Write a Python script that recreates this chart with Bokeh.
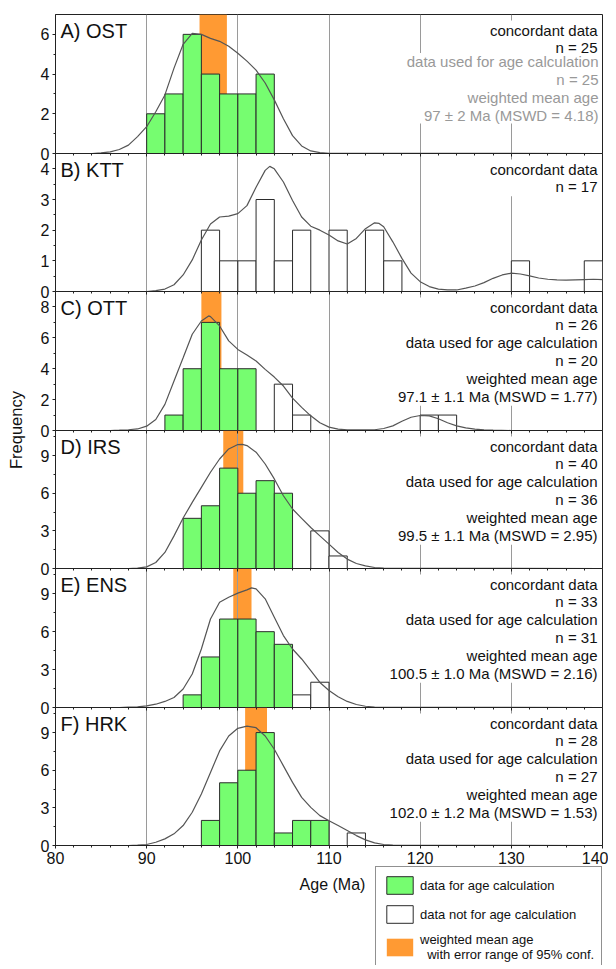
import math
from bokeh.plotting import figure
from bokeh.layouts import column, row
from bokeh.models import (Range1d, FixedTicker, Label, ColumnDataSource, LinearAxis,
                          BoxAnnotation, Legend, LegendItem)
from bokeh.embed import file_html
from bokeh.resources import INLINE

FONT = "Liberation Sans"
GREEN = "#76FD70"
ORANGE = "#FF9A33"
GRAY_TXT = "#999999"
BIN_W = 2

# ---------------- data ----------------
panel_names = ["A) OST", "B) KTT", "C) OTT", "D) IRS", "E) ENS", "F) HRK"]

A_bins = [90, 92, 94, 96, 98, 100, 102]
A_counts = [2, 3, 6, 4, 3, 3, 4]
A_used = [True, True, True, True, True, True, True]
B_bins = [96, 98, 100, 102, 104, 106, 110, 114, 116, 130, 138]
B_counts = [2, 1, 1, 3, 1, 2, 2, 2, 1, 1, 1]
B_used = [False] * 11
C_bins = [92, 94, 96, 98, 100, 104, 106, 120, 122]
C_counts = [1, 4, 7, 4, 4, 3, 1, 1, 1]
C_used = [True, True, True, True, True, False, False, False, False]
D_bins = [94, 96, 98, 100, 102, 104, 108, 110]
D_counts = [4, 5, 8, 6, 7, 6, 3, 1]
D_used = [True, True, True, True, True, True, False, False]
E_bins = [94, 96, 98, 100, 102, 104, 106, 108]
E_counts = [1, 4, 7, 7, 6, 5, 1, 2]
E_used = [True, True, True, True, True, True, False, False]
F_bins = [96, 98, 100, 102, 104, 106, 108, 112]
F_counts = [2, 5, 6, 9, 1, 2, 2, 1]
F_used = [True, True, True, True, True, True, True, False]

A_kde_age = [80, 84, 85, 86, 87, 88, 89, 90, 91, 92, 93, 94, 95, 96, 97, 98, 99, 100, 101, 102,
             103, 104, 105, 106, 107, 108, 109, 110, 140]
A_kde_freq = [0, 0.0, 0.03, 0.08, 0.2, 0.42, 0.85, 1.35, 2.1, 2.95, 4.3, 5.5, 6.05, 6.0, 5.8, 5.65,
              5.4, 5.05, 4.65, 4.2, 3.55, 2.7, 1.75, 0.9, 0.38, 0.13, 0.04, 0.01, 0.0]
B_kde_age = [80, 90, 91, 92, 93, 94, 95, 96, 97, 98, 99, 100, 101, 102, 103, 103.5, 104, 105, 106,
             107, 108, 109, 110, 111, 112, 113, 114, 115, 115.5, 116, 117, 118, 119, 120, 121, 122,
             123, 124, 125, 126, 127, 128, 129, 130, 131, 132, 133, 134, 135, 136, 137, 138, 139, 140]
B_kde_freq = [0, 0.0, 0.03, 0.08, 0.22, 0.54, 1.03, 1.68, 2.2, 2.43, 2.46, 2.54, 2.8, 3.4, 3.95, 4.08,
              4.0, 3.57, 2.97, 2.43, 2.13, 2.0, 1.84, 1.65, 1.55, 1.73, 2.05, 2.24, 2.22, 2.11, 1.62,
              1.08, 0.6, 0.32, 0.16, 0.08, 0.05, 0.05, 0.11, 0.18, 0.29, 0.43, 0.54, 0.6, 0.57, 0.51,
              0.44, 0.4, 0.38, 0.37, 0.38, 0.39, 0.4, 0.39]
C_kde_age = [80, 86, 87, 88, 89, 90, 91, 92, 93, 94, 95, 96, 96.8, 97, 98, 99, 100, 101, 102, 103,
             104, 105, 106, 107, 108, 109, 110, 111, 112, 113, 114, 115, 116, 117, 118, 119, 120,
             121, 122, 123, 124, 125, 126, 127, 128, 130, 140]
C_kde_freq = [0, 0.0, 0.02, 0.05, 0.1, 0.28, 0.71, 1.69, 3.2, 4.71, 6.23, 7.09, 7.42, 7.37, 6.77,
              5.8, 5.25, 4.89, 4.5, 3.96, 3.46, 2.88, 2.1, 1.5, 0.95, 0.5, 0.22, 0.09, 0.04, 0.04,
              0.04, 0.05, 0.13, 0.3, 0.6, 0.86, 0.97, 0.95, 0.76, 0.5, 0.3, 0.17, 0.09, 0.04, 0.02,
              0.0, 0.0]
D_kde_age = [80, 88, 89, 90, 91, 92, 93, 94, 95, 96, 97, 98, 99, 100, 100.5, 101, 102, 103, 104,
             105, 106, 107, 108, 109, 110, 111, 112, 113, 114, 115, 116, 117, 140]
D_kde_freq = [0, 0.0, 0.03, 0.13, 0.48, 1.28, 2.6, 4.02, 5.27, 6.47, 7.67, 8.73, 9.53, 9.88, 9.9,
              9.8, 9.27, 8.33, 7.14, 5.8, 4.74, 4.0, 3.27, 2.6, 1.94, 1.28, 0.75, 0.4, 0.21, 0.08,
              0.03, 0.01, 0.0]
E_kde_age = [80, 87, 88, 89, 90, 91, 92, 93, 94, 95, 96, 97, 98, 99, 100, 101, 101.5, 102, 103,
             104, 105, 106, 107, 108, 109, 110, 111, 112, 113, 114, 115, 116, 117, 140]
E_kde_freq = [0, 0.0, 0.03, 0.05, 0.13, 0.26, 0.48, 0.79, 1.46, 2.65, 4.63, 7.0, 8.33, 8.73, 9.05,
              9.31, 9.47, 9.39, 8.6, 7.14, 5.69, 4.63, 3.84, 2.91, 1.98, 1.35, 0.85, 0.48, 0.24,
              0.1, 0.04, 0.02, 0.01, 0.0]
F_kde_age = [80, 88, 89, 90, 91, 92, 93, 94, 95, 96, 97, 98, 99, 100, 101, 102, 103, 104, 105,
             106, 107, 108, 109, 110, 111, 112, 113, 114, 115, 116, 117, 118, 140]
F_kde_freq = [0, 0.0, 0.03, 0.08, 0.26, 0.53, 0.93, 1.59, 2.65, 4.1, 5.82, 7.54, 8.73, 9.34, 9.52,
              9.39, 8.73, 7.67, 6.35, 5.03, 3.84, 3.04, 2.38, 1.98, 1.59, 1.19, 0.79, 0.45, 0.21,
              0.08, 0.03, 0.01, 0.0]

# weighted mean age band (centre, half width) as drawn; None = no band
wm_band = [(97.3, 1.5), None, (97.1, 1.1), (99.5, 1.1), (100.5, 1.0), (102.0, 1.2)]

info_black = [
    ["concordant data", "n = 25"],
    ["concordant data", "n = 17"],
    ["concordant data", "n = 26", "data used for age calculation", "n = 20",
     "weighted mean age", "97.1 \u00b1 1.1 Ma (MSWD = 1.77)"],
    ["concordant data", "n = 40", "data used for age calculation", "n = 36",
     "weighted mean age", "99.5 \u00b1 1.1 Ma (MSWD = 2.95)"],
    ["concordant data", "n = 33", "data used for age calculation", "n = 31",
     "weighted mean age", "100.5 \u00b1 1.0 Ma (MSWD = 2.16)"],
    ["concordant data", "n = 28", "data used for age calculation", "n = 27",
     "weighted mean age", "102.0 \u00b1 1.2 Ma (MSWD = 1.53)"],
]
info_gray = [
    ["data used for age calculation", "n = 25", "weighted mean age", "97 \u00b1 2 Ma (MSWD = 4.18)"],
    [], [], [], [], [],
]

y_max = [7, 4.5, 9, 11, 11, 11]
y_ticks = [[0, 2, 4, 6], [0, 1, 2, 3, 4], [0, 2, 4, 6, 8], [0, 3, 6, 9], [0, 3, 6, 9], [0, 3, 6, 9]]
y_minor = [[1, 3, 5], [0.5, 1.5, 2.5, 3.5], [1, 3, 5, 7], [1.5, 4.5, 7.5, 10.5],
           [1.5, 4.5, 7.5, 10.5], [1.5, 4.5, 7.5, 10.5]]
x_ticks = [80, 90, 100, 110, 120, 130, 140]
x_minor = [a for a in range(82, 140, 2) if a % 10 != 0]
grid_ticks = [90, 100, 110, 120, 130]

legend_labels = ["data for age calculation", "data not for age calculation",
                 "weighted mean age\n  with error range of 95% conf."]

bins_all = [A_bins, B_bins, C_bins, D_bins, E_bins, F_bins]
counts_all = [A_counts, B_counts, C_counts, D_counts, E_counts, F_counts]
used_all = [A_used, B_used, C_used, D_used, E_used, F_used]
kde_x_all = [A_kde_age, B_kde_age, C_kde_age, D_kde_age, E_kde_age, F_kde_age]
kde_y_all = [A_kde_freq, B_kde_freq, C_kde_freq, D_kde_freq, E_kde_freq, F_kde_freq]

# ---------------- layout constants ----------------
FRAME_W = 547
frame_h = [139, 138, 139, 138, 139, 138]
TOP_PAD = 14
OVER = 9          # overlap so that the "0" tick labels are not clipped
LINE_H = 1.05
INFO_FS = 15

panels = []
n = len(panel_names)
for i in range(n):
    first = i == 0
    last = i == n - 1
    p = figure(frame_width=FRAME_W, frame_height=frame_h[i],
               x_range=Range1d(80, 140), y_range=Range1d(0, y_max[i]),
               output_backend="svg", toolbar_location=None, x_axis_location=None,
               min_border_left=25, min_border_right=6,
               min_border_top=TOP_PAD if first else 0,
               min_border_bottom=0 if last else OVER)
    if not first:
        p.margin = (-OVER, 0, 0, 0)
    p.border_fill_color = None
    p.outline_line_color = "#222222"
    p.outline_line_width = 1
    p.ygrid.visible = False
    p.xgrid.ticker = FixedTicker(ticks=grid_ticks)
    p.xgrid.grid_line_color = "#9a9a9a"
    p.xgrid.grid_line_width = 1

    yax = p.yaxis[0]
    yax.ticker = FixedTicker(ticks=y_ticks[i], minor_ticks=y_minor[i])
    yax.major_tick_out = 3
    yax.major_tick_in = 0
    yax.minor_tick_out = 2
    yax.minor_tick_in = 0
    yax.axis_line_color = "#222222"
    yax.major_tick_line_color = "#222222"
    yax.minor_tick_line_color = "#222222"
    yax.major_label_text_font = FONT
    yax.major_label_text_font_size = "16px"
    yax.major_label_text_color = "#111111"
    yax.major_label_standoff = 3

    if not first:
        ax_top = LinearAxis(ticker=FixedTicker(ticks=x_ticks, minor_ticks=x_minor),
                            fixed_location=y_max[i],
                            major_tick_in=3, major_tick_out=0, minor_tick_in=2, minor_tick_out=0,
                            major_label_text_color=None, axis_line_color="#222222",
                            major_tick_line_color="#222222", minor_tick_line_color="#222222")
        p.add_layout(ax_top, "above")
    if last:
        ax_bot = LinearAxis(ticker=FixedTicker(ticks=x_ticks, minor_ticks=x_minor),
                            major_tick_in=0, major_tick_out=3, minor_tick_in=0, minor_tick_out=2,
                            major_label_text_font=FONT, major_label_text_font_size="16px",
                            major_label_text_color="#111111", major_label_standoff=3,
                            axis_line_color="#222222", major_tick_line_color="#222222",
                            minor_tick_line_color="#222222")
        p.add_layout(ax_bot, "below")

    if wm_band[i] is not None:
        c, e = wm_band[i]
        band = BoxAnnotation(left=c - e, right=c + e, fill_color=ORANGE, fill_alpha=1.0,
                             line_color=None, level="image")
        p.add_layout(band)

    src = ColumnDataSource(dict(
        left=bins_all[i],
        right=[b + BIN_W for b in bins_all[i]],
        top=counts_all[i],
        color=[GREEN if u else "white" for u in used_all[i]],
    ))
    p.quad(left="left", right="right", bottom=0, top="top", fill_color="color",
           line_color="#2b2b2b", line_width=1, source=src)
    p.line(kde_x_all[i], kde_y_all[i], line_color="#555555", line_width=1.2)

    p.add_layout(Label(x=80, y=y_max[i], x_offset=5, y_offset=-5, text=panel_names[i],
                       text_font=FONT, text_font_size="20px", text_color="#111111",
                       text_align="left", text_baseline="top"))

    p.add_layout(Label(x=140, y=y_max[i], x_offset=-4, y_offset=-6,
                       text="\n".join(info_black[i]), text_font=FONT,
                       text_font_size=f"{INFO_FS}px", text_line_height=LINE_H,
                       text_color="#111111", text_align="right", text_baseline="top",
                       background_fill_color="white", padding=1))
    if info_gray[i]:
        off = -6 - len(info_black[i]) * INFO_FS * LINE_H - 1
        p.add_layout(Label(x=140, y=y_max[i], x_offset=-4, y_offset=off,
                           text="\n".join(info_gray[i]), text_font=FONT,
                           text_font_size=f"{INFO_FS}px", text_line_height=LINE_H,
                           text_color=GRAY_TXT, text_align="right", text_baseline="top",
                           background_fill_color="white", padding=0))
    panels.append(p)

# y-axis title figure
freq = figure(frame_width=30, frame_height=sum(frame_h), x_range=Range1d(0, 1),
              y_range=Range1d(0, 1), output_backend="svg", toolbar_location=None,
              x_axis_location=None, y_axis_location=None, min_border_left=0,
              min_border_right=0, min_border_top=TOP_PAD, min_border_bottom=0)
freq.outline_line_color = None
freq.border_fill_color = None
freq.grid.visible = False
freq.add_layout(Label(x=0.5, y=0.5, text="Frequency", angle=math.pi / 2,
                      text_font=FONT, text_font_size="16.5px", text_color="#111111",
                      text_align="center", text_baseline="middle"))

BOT_H = 99
age_fig = figure(frame_width=345, frame_height=BOT_H, x_range=Range1d(0, 345),
                 y_range=Range1d(0, BOT_H), output_backend="svg", toolbar_location=None,
                 x_axis_location=None, y_axis_location=None, min_border=0)
age_fig.outline_line_color = None
age_fig.grid.visible = False
age_fig.add_layout(Label(x=302, y=BOT_H - 18, text="Age (Ma)", text_font=FONT,
                         text_font_size="16px", text_color="#111111",
                         text_align="center", text_baseline="middle"))

leg_fig = figure(frame_width=233, frame_height=BOT_H, x_range=Range1d(0, 1),
                 y_range=Range1d(0, 1), output_backend="svg", toolbar_location=None,
                 x_axis_location=None, y_axis_location=None, min_border=0)
leg_fig.outline_line_color = None
leg_fig.grid.visible = False
nan = float("nan")
r1 = leg_fig.quad(left=[nan], right=[nan], top=[nan], bottom=[nan],
                  fill_color=GREEN, line_color="#2b2b2b")
r2 = leg_fig.quad(left=[nan], right=[nan], top=[nan], bottom=[nan],
                  fill_color="white", line_color="#2b2b2b")
r3 = leg_fig.quad(left=[nan], right=[nan], top=[nan], bottom=[nan],
                  fill_color=ORANGE, line_color=None)
legend = Legend(items=[LegendItem(label=legend_labels[0], renderers=[r1]),
                       LegendItem(label=legend_labels[1], renderers=[r2]),
                       LegendItem(label=legend_labels[2], renderers=[r3])],
                location="top_left", margin=0, padding=7, spacing=7,
                glyph_width=33, glyph_height=22, label_standoff=4,
                label_text_font=FONT, label_text_font_size="13px",
                label_text_color="#111111", label_text_line_height=1.05,
                border_line_color="#222222", border_line_width=1,
                background_fill_color="white")
leg_fig.add_layout(legend)

layout = row(freq, column(*panels, row(age_fig, leg_fig)))

open("out.html", "w").write(file_html(layout, INLINE))
